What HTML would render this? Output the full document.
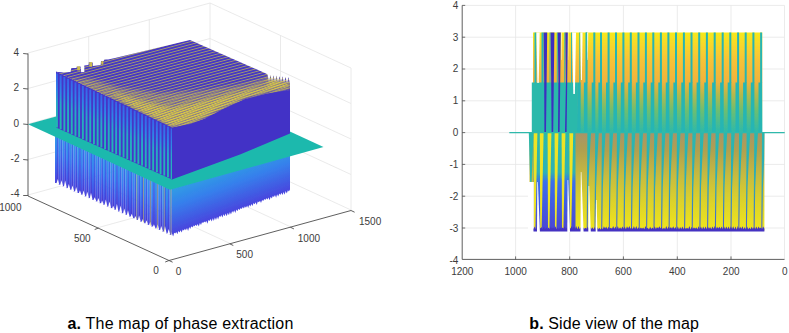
<!DOCTYPE html>
<html><head><meta charset="utf-8">
<style>
html,body{margin:0;padding:0;background:#fff;width:789px;height:333px;overflow:hidden}
svg{display:block;position:absolute;left:0;top:0}
.t{font-family:"Liberation Sans",sans-serif;font-size:10px;fill:#3c3c3c}
.cap{position:absolute;font-family:"Liberation Sans",sans-serif;font-size:16px;color:#000;white-space:nowrap;line-height:1}
</style></head><body>
<svg width="789" height="333" viewBox="0 0 789 333">
<defs>
  <linearGradient id="bUp" x1="0" y1="32" x2="0" y2="133" gradientUnits="userSpaceOnUse">
    <stop offset="0" stop-color="#f6ea1a"/>
    <stop offset="0.13" stop-color="#f8d62a"/>
    <stop offset="0.28" stop-color="#f7c236"/>
    <stop offset="0.5" stop-color="#f0b23c"/>
    <stop offset="0.62" stop-color="#b4b84c"/>
    <stop offset="0.78" stop-color="#6cbe72"/>
    <stop offset="1" stop-color="#2cb9ab"/>
  </linearGradient>
  <linearGradient id="bLo" x1="0" y1="133" x2="0" y2="231" gradientUnits="userSpaceOnUse">
    <stop offset="0" stop-color="#a89468"/>
    <stop offset="0.18" stop-color="#b0a050"/>
    <stop offset="0.43" stop-color="#c6ba40"/>
    <stop offset="0.7" stop-color="#dcd22a"/>
    <stop offset="1" stop-color="#f0e61c"/>
  </linearGradient>
  <linearGradient id="bLoStripe" x1="0" y1="133" x2="0" y2="231" gradientUnits="userSpaceOnUse">
    <stop offset="0" stop-color="#2ab8b0"/>
    <stop offset="0.5" stop-color="#2eaab8"/>
    <stop offset="1" stop-color="#4a5cd0"/>
  </linearGradient>
  <linearGradient id="bLeftLo" x1="0" y1="133" x2="0" y2="231" gradientUnits="userSpaceOnUse">
    <stop offset="0" stop-color="#2cb9ab"/>
    <stop offset="0.4" stop-color="#2eb2b4"/>
    <stop offset="0.5" stop-color="#3a70ec"/>
    <stop offset="1" stop-color="#4a44d4"/>
  </linearGradient>
  <linearGradient id="aLowR" x1="231" y1="161.5" x2="247.4" y2="206" gradientUnits="userSpaceOnUse">
    <stop offset="0" stop-color="#2ca6e2"/>
    <stop offset="0.45" stop-color="#3680ec"/>
    <stop offset="1" stop-color="#4846de"/>
  </linearGradient>
  <linearGradient id="aLowLa" x1="0" y1="0" x2="0" y2="1">
    <stop offset="0" stop-color="#30a2e6"/>
    <stop offset="0.45" stop-color="#3884f0"/>
    <stop offset="0.8" stop-color="#425aea"/>
    <stop offset="1" stop-color="#4a44dc"/>
  </linearGradient>
  <linearGradient id="aLowLb" x1="0" y1="0" x2="0" y2="1">
    <stop offset="0" stop-color="#367cea"/>
    <stop offset="0.5" stop-color="#405ae6"/>
    <stop offset="1" stop-color="#4838d0"/>
  </linearGradient>
  <linearGradient id="aUpStripe" x1="0" y1="0" x2="0" y2="1">
    <stop offset="0" stop-color="#3a62ea"/>
    <stop offset="0.3" stop-color="#2f84e6"/>
    <stop offset="0.55" stop-color="#28a8c8"/>
    <stop offset="1" stop-color="#22b8b0"/>
  </linearGradient>
  <pattern id="topLines" x="0" y="0" width="40" height="2.7" patternUnits="userSpaceOnUse" patternTransform="rotate(-15)">
    <rect x="0" y="0" width="40" height="2.7" fill="#4537c4"/>
    <rect x="0" y="0" width="40" height="0.85" fill="#a89e6c"/>
  </pattern>
  <pattern id="yelLines" x="0" y="0" width="40" height="2.15" patternUnits="userSpaceOnUse" patternTransform="rotate(-20)">
    <rect x="0" y="0.4" width="40" height="1.5" fill="#e0d03e"/>
  </pattern>
  <filter id="soft" x="-5%" y="-5%" width="110%" height="110%"><feGaussianBlur stdDeviation="0.35"/></filter>
  <filter id="soft2" x="-10%" y="-10%" width="120%" height="120%"><feGaussianBlur stdDeviation="2.2"/></filter>
  <mask id="yelMask" maskUnits="userSpaceOnUse" x="0" y="0" width="400" height="300"><g filter="url(#soft2)">
    <polygon points="66,80 90,79 120,88 160,93 200,91 240,85 268,78 290,84 267,93 245,99 225,108 205,118.5 190,124 172,127.5 120,103 66,88" fill="#888"/>
    <polygon points="110,92 140,101 172,108 200,102 225,96 250,90 268,86 267,93 245,99 225,108 205,118.5 190,124 172,127.5 140,112" fill="#fff"/>
    <polygon points="268,76 290,82 290,88 268,93" fill="#fff"/>
  </g></mask>
</defs>

<g stroke="#e4e4e4" stroke-width="0.8" fill="none"><line x1="28.0" y1="195.0" x2="210.0" y2="145.0"/><line x1="210.0" y1="145.0" x2="351.0" y2="210.0"/><line x1="28.0" y1="159.5" x2="210.0" y2="109.5"/><line x1="210.0" y1="109.5" x2="351.0" y2="174.5"/><line x1="28.0" y1="124.0" x2="210.0" y2="74.0"/><line x1="210.0" y1="74.0" x2="351.0" y2="139.0"/><line x1="28.0" y1="88.5" x2="210.0" y2="38.5"/><line x1="210.0" y1="38.5" x2="351.0" y2="103.5"/><line x1="28.0" y1="53.0" x2="210.0" y2="3.0"/><line x1="210.0" y1="3.0" x2="351.0" y2="68.0"/><line x1="88.7" y1="178.3" x2="88.7" y2="36.3"/><line x1="149.3" y1="161.7" x2="149.3" y2="19.7"/><line x1="210.0" y1="145.0" x2="210.0" y2="3.0"/><line x1="280.5" y1="177.5" x2="280.5" y2="35.5"/><line x1="351.0" y1="210.0" x2="351.0" y2="68.0"/><line x1="98.5" y1="227.5" x2="280.5" y2="177.5"/><line x1="88.7" y1="178.3" x2="229.7" y2="243.3"/><line x1="149.3" y1="161.7" x2="290.3" y2="226.7"/></g>
<g filter="url(#soft)">
<g><rect x="55.00" y="127.5" width="2.0" height="55.5" fill="url(#aLowLa)"/><rect x="56.85" y="128.4" width="1.9000000000000001" height="55.5" fill="url(#aLowLb)"/><rect x="58.70" y="129.3" width="2.0" height="55.4" fill="url(#aLowLa)"/><rect x="60.55" y="130.1" width="1.9000000000000001" height="55.4" fill="url(#aLowLb)"/><rect x="62.40" y="131.0" width="2.0" height="55.3" fill="url(#aLowLa)"/><rect x="64.25" y="131.9" width="1.9000000000000001" height="55.3" fill="url(#aLowLb)"/><rect x="66.10" y="132.8" width="2.0" height="55.3" fill="url(#aLowLa)"/><rect x="67.95" y="133.6" width="1.9000000000000001" height="55.2" fill="url(#aLowLb)"/><rect x="69.80" y="134.5" width="2.0" height="55.2" fill="url(#aLowLa)"/><rect x="71.65" y="135.4" width="1.9000000000000001" height="55.1" fill="url(#aLowLb)"/><rect x="73.50" y="136.3" width="2.0" height="55.1" fill="url(#aLowLa)"/><rect x="75.35" y="137.2" width="1.9000000000000001" height="55.1" fill="url(#aLowLb)"/><rect x="77.20" y="138.0" width="2.0" height="55.0" fill="url(#aLowLa)"/><rect x="79.05" y="138.9" width="1.9000000000000001" height="55.0" fill="url(#aLowLb)"/><rect x="80.90" y="139.8" width="2.0" height="54.9" fill="url(#aLowLa)"/><rect x="82.75" y="140.7" width="1.9000000000000001" height="54.9" fill="url(#aLowLb)"/><rect x="84.60" y="141.5" width="2.0" height="54.9" fill="url(#aLowLa)"/><rect x="86.45" y="142.4" width="1.9000000000000001" height="54.8" fill="url(#aLowLb)"/><rect x="88.30" y="143.3" width="2.0" height="54.8" fill="url(#aLowLa)"/><rect x="90.15" y="144.2" width="1.9000000000000001" height="54.7" fill="url(#aLowLb)"/><rect x="92.00" y="145.1" width="2.0" height="54.7" fill="url(#aLowLa)"/><rect x="93.85" y="145.9" width="1.9000000000000001" height="54.7" fill="url(#aLowLb)"/><rect x="95.70" y="146.8" width="2.0" height="54.6" fill="url(#aLowLa)"/><rect x="97.55" y="147.7" width="1.9000000000000001" height="54.6" fill="url(#aLowLb)"/><rect x="99.40" y="148.6" width="2.0" height="54.6" fill="url(#aLowLa)"/><rect x="101.25" y="149.4" width="1.9000000000000001" height="54.5" fill="url(#aLowLb)"/><rect x="103.10" y="150.3" width="2.0" height="54.5" fill="url(#aLowLa)"/><rect x="104.95" y="151.2" width="1.9000000000000001" height="54.4" fill="url(#aLowLb)"/><rect x="106.80" y="152.1" width="2.0" height="54.4" fill="url(#aLowLa)"/><rect x="108.65" y="152.9" width="1.9000000000000001" height="54.4" fill="url(#aLowLb)"/><rect x="110.50" y="153.8" width="2.0" height="54.3" fill="url(#aLowLa)"/><rect x="112.35" y="154.7" width="1.9000000000000001" height="54.3" fill="url(#aLowLb)"/><rect x="114.20" y="155.6" width="2.0" height="54.2" fill="url(#aLowLa)"/><rect x="116.05" y="156.5" width="1.9000000000000001" height="54.2" fill="url(#aLowLb)"/><rect x="117.90" y="157.3" width="2.0" height="54.2" fill="url(#aLowLa)"/><rect x="119.75" y="158.2" width="1.9000000000000001" height="54.1" fill="url(#aLowLb)"/><rect x="121.60" y="159.1" width="2.0" height="54.1" fill="url(#aLowLa)"/><rect x="123.45" y="160.0" width="1.9000000000000001" height="54.0" fill="url(#aLowLb)"/><rect x="125.30" y="160.8" width="2.0" height="54.0" fill="url(#aLowLa)"/><rect x="127.15" y="161.7" width="1.9000000000000001" height="54.0" fill="url(#aLowLb)"/><rect x="129.00" y="162.6" width="2.0" height="53.9" fill="url(#aLowLa)"/><rect x="130.85" y="163.5" width="1.9000000000000001" height="53.9" fill="url(#aLowLb)"/><rect x="132.70" y="164.4" width="2.0" height="53.8" fill="url(#aLowLa)"/><rect x="134.55" y="165.2" width="1.9000000000000001" height="53.8" fill="url(#aLowLb)"/><rect x="136.40" y="166.1" width="2.0" height="53.8" fill="url(#aLowLa)"/><rect x="138.25" y="167.0" width="1.9000000000000001" height="53.7" fill="url(#aLowLb)"/><rect x="140.10" y="167.9" width="2.0" height="53.7" fill="url(#aLowLa)"/><rect x="141.95" y="168.7" width="1.9000000000000001" height="53.6" fill="url(#aLowLb)"/><rect x="143.80" y="169.6" width="2.0" height="53.6" fill="url(#aLowLa)"/><rect x="145.65" y="170.5" width="1.9000000000000001" height="53.6" fill="url(#aLowLb)"/><rect x="147.50" y="171.4" width="2.0" height="53.5" fill="url(#aLowLa)"/><rect x="149.35" y="172.3" width="1.9000000000000001" height="53.5" fill="url(#aLowLb)"/><rect x="151.20" y="173.1" width="2.0" height="53.4" fill="url(#aLowLa)"/><rect x="153.05" y="174.0" width="1.9000000000000001" height="53.4" fill="url(#aLowLb)"/><rect x="154.90" y="174.9" width="2.0" height="53.4" fill="url(#aLowLa)"/><rect x="156.75" y="175.8" width="1.9000000000000001" height="53.3" fill="url(#aLowLb)"/><rect x="158.60" y="176.6" width="2.0" height="53.3" fill="url(#aLowLa)"/><rect x="160.45" y="177.5" width="1.9000000000000001" height="53.2" fill="url(#aLowLb)"/><rect x="162.30" y="178.4" width="2.0" height="53.2" fill="url(#aLowLa)"/><rect x="164.15" y="179.3" width="1.9000000000000001" height="53.2" fill="url(#aLowLb)"/><rect x="166.00" y="180.2" width="2.0" height="53.1" fill="url(#aLowLa)"/><rect x="167.85" y="181.0" width="1.9000000000000001" height="53.1" fill="url(#aLowLb)"/><rect x="169.70" y="181.9" width="2.0" height="53.0" fill="url(#aLowLa)"/><rect x="171.55" y="182.8" width="1.9000000000000001" height="53.0" fill="url(#aLowLb)"/></g>
<g fill="#fff"><polygon points="56.2,184.3 59.2,184.3 57.8,179.0"/><polygon points="60.0,186.0 63.0,186.0 61.5,180.3"/><polygon points="63.7,187.7 66.7,187.7 65.2,180.5"/><polygon points="67.3,189.4 70.3,189.4 68.8,184.0"/><polygon points="71.0,191.0 74.0,191.0 72.5,185.5"/><polygon points="74.7,192.7 77.7,192.7 76.2,186.9"/><polygon points="78.4,194.4 81.4,194.4 79.9,190.2"/><polygon points="82.1,196.1 85.1,196.1 83.6,190.5"/><polygon points="85.8,197.7 88.8,197.7 87.3,191.7"/><polygon points="89.5,199.4 92.5,199.4 91.0,192.8"/><polygon points="93.2,201.1 96.2,201.1 94.7,197.2"/><polygon points="96.9,202.8 99.9,202.8 98.4,198.1"/><polygon points="100.6,204.5 103.6,204.5 102.1,200.6"/><polygon points="104.3,206.1 107.3,206.1 105.8,199.4"/><polygon points="108.0,207.8 111.0,207.8 109.5,201.5"/><polygon points="111.7,209.5 114.7,209.5 113.2,205.8"/><polygon points="115.4,211.2 118.4,211.2 116.9,203.7"/><polygon points="119.1,212.8 122.1,212.8 120.6,205.5"/><polygon points="122.8,214.5 125.8,214.5 124.3,208.4"/><polygon points="126.5,216.2 129.5,216.2 128.0,210.2"/><polygon points="130.2,217.9 133.2,217.9 131.7,213.7"/><polygon points="133.9,219.5 136.9,219.5 135.4,216.0"/><polygon points="137.6,221.2 140.6,221.2 139.1,215.6"/><polygon points="141.3,222.9 144.3,222.9 142.8,219.1"/><polygon points="145.0,224.6 148.0,224.6 146.5,220.3"/><polygon points="148.7,226.2 151.7,226.2 150.2,221.8"/><polygon points="152.4,227.9 155.4,227.9 153.9,224.3"/><polygon points="156.1,229.6 159.1,229.6 157.6,224.2"/><polygon points="159.8,231.3 162.8,231.3 161.3,226.0"/><polygon points="163.5,232.9 166.5,232.9 165.0,226.1"/><polygon points="167.2,234.6 170.2,234.6 168.7,229.0"/><polygon points="170.9,236.3 173.9,236.3 172.4,230.2"/></g>
<g fill="#c8c050" opacity="0.7"><rect x="136.5" y="170.2" width="0.7" height="49.3"/><rect x="143.2" y="173.3" width="0.7" height="49.1"/><rect x="150.1" y="176.6" width="0.7" height="49.0"/><rect x="157.0" y="179.9" width="0.7" height="48.8"/><rect x="163.8" y="183.1" width="0.7" height="48.7"/><rect x="170.6" y="186.3" width="0.7" height="48.5"/></g>
<polygon points="172.0,183.0 290.0,140.0 290.0,189.5 288.9,191.5 287.9,190.3 286.8,193.4 285.7,191.1 284.6,194.8 283.6,191.9 282.5,194.9 281.4,192.7 280.3,195.0 279.3,193.5 278.2,196.6 277.1,194.3 276.1,197.8 275.0,195.1 273.9,197.1 272.8,195.9 271.8,198.6 270.7,196.7 269.6,200.2 268.5,197.5 267.5,199.6 266.4,198.3 265.3,199.9 264.3,199.1 263.2,201.0 262.1,199.9 261.0,203.0 260.0,200.7 258.9,202.3 257.8,201.5 256.7,205.1 255.7,202.3 254.6,204.2 253.5,203.1 252.5,205.9 251.4,203.9 250.3,206.6 249.2,204.7 248.2,207.8 247.1,205.5 246.0,207.7 244.9,206.3 243.9,208.4 242.8,207.1 241.7,208.9 240.7,207.9 239.6,210.1 238.5,208.7 237.4,211.3 236.4,209.5 235.3,213.1 234.2,210.3 233.1,212.8 232.1,211.1 231.0,214.6 229.9,211.9 228.9,215.3 227.8,212.7 226.7,216.3 225.6,213.5 224.6,216.2 223.5,214.3 222.4,217.4 221.3,215.1 220.3,216.9 219.2,215.9 218.1,219.6 217.1,216.7 216.0,220.0 214.9,217.5 213.8,221.1 212.8,218.3 211.7,221.6 210.6,219.1 209.5,221.0 208.5,219.9 207.4,223.7 206.3,220.7 205.3,222.5 204.2,221.5 203.1,223.0 202.0,222.3 201.0,225.1 199.9,223.1 198.8,226.6 197.7,223.9 196.7,226.1 195.6,224.7 194.5,226.2 193.5,225.5 192.4,227.6 191.3,226.3 190.2,229.0 189.2,227.1 188.1,230.9 187.0,227.9 185.9,230.3 184.9,228.7 183.8,230.5 182.7,229.5 181.7,232.4 180.6,230.3 179.5,232.5 178.4,231.1 177.4,234.3 176.3,231.9 175.2,233.5 174.1,232.7 173.1,236.4 172.0,233.5" fill="url(#aLowR)"/>
<polygon points="28,124.3 182,81.7 323.5,147 170,189.8" fill="#1fb9ad"/>
<polygon points="56,71.5 172,127 172,179.5 56,127.5" fill="#4434c8"/>
<g fill="url(#aUpStripe)"><rect x="56.00" y="73.5" width="1.9" height="54.0"/><rect x="59.70" y="75.3" width="1.9" height="53.9"/><rect x="63.40" y="77.0" width="1.9" height="53.8"/><rect x="67.10" y="78.8" width="1.9" height="53.7"/><rect x="70.80" y="80.6" width="1.9" height="53.6"/><rect x="74.50" y="82.4" width="1.9" height="53.4"/><rect x="78.20" y="84.1" width="1.9" height="53.3"/><rect x="81.90" y="85.9" width="1.9" height="53.2"/><rect x="85.60" y="87.7" width="1.9" height="53.1"/><rect x="89.30" y="89.4" width="1.9" height="53.0"/><rect x="93.00" y="91.2" width="1.9" height="52.9"/><rect x="96.70" y="93.0" width="1.9" height="52.8"/><rect x="100.40" y="94.7" width="1.9" height="52.7"/><rect x="104.10" y="96.5" width="1.9" height="52.5"/><rect x="107.80" y="98.3" width="1.9" height="52.4"/><rect x="111.50" y="100.1" width="1.9" height="52.3"/><rect x="115.20" y="101.8" width="1.9" height="52.2"/><rect x="118.90" y="103.6" width="1.9" height="52.1"/><rect x="122.60" y="105.4" width="1.9" height="52.0"/><rect x="126.30" y="107.1" width="1.9" height="51.9"/><rect x="130.00" y="108.9" width="1.9" height="51.8"/><rect x="133.70" y="110.7" width="1.9" height="51.7"/><rect x="137.40" y="112.4" width="1.9" height="51.5"/><rect x="141.10" y="114.2" width="1.9" height="51.4"/><rect x="144.80" y="116.0" width="1.9" height="51.3"/><rect x="148.50" y="117.8" width="1.9" height="51.2"/><rect x="152.20" y="119.5" width="1.9" height="51.1"/><rect x="155.90" y="121.3" width="1.9" height="51.0"/><rect x="159.60" y="123.1" width="1.9" height="50.9"/><rect x="163.30" y="124.8" width="1.9" height="50.8"/><rect x="167.00" y="126.6" width="1.9" height="50.7"/><rect x="170.70" y="128.4" width="1.9" height="50.5"/></g>
<polygon points="172,126 190,123 205,117.5 225,107 245,98 267,92.5 290,89.5 290,133.5 240,154.5 172,179.5" fill="#4331c6"/>
<polygon points="56.0,71.8 64.0,72.5 65.0,72.2 70.5,72.0 71.3,68.0 76.5,68.0 76.7,66.4 80.5,66.4 81.2,72.3 84.3,72.0 84.3,65.5 88.5,65.0 88.8,62.3 92.6,62.3 93.0,66.0 100.6,65.0 101.0,61.1 103.7,61.1 104.4,59.6 108.2,59.6 115.0,58.0 190.0,40.0 266.0,73.5 267.5,74.5 269.0,81.7 270.5,74.9 272.0,82.0 273.5,75.2 275.0,82.2 276.5,75.6 278.0,82.5 279.5,75.9 281.0,82.8 282.5,76.3 284.0,83.2 285.5,76.7 287.0,83.5 288.5,77.0 290.0,83.8 290.0,84.0 290.0,90.0 267.0,93.5 245.0,99.0 225.0,108.0 205.0,118.5 190.0,124.0 172.0,127.5" fill="url(#topLines)"/>
<polygon points="56.0,71.8 64.0,72.5 65.0,72.2 70.5,72.0 71.3,68.0 76.5,68.0 76.7,66.4 80.5,66.4 81.2,72.3 84.3,72.0 84.3,65.5 88.5,65.0 88.8,62.3 92.6,62.3 93.0,66.0 100.6,65.0 101.0,61.1 103.7,61.1 104.4,59.6 108.2,59.6 115.0,58.0 190.0,40.0 266.0,73.5 267.5,74.5 269.0,81.7 270.5,74.9 272.0,82.0 273.5,75.2 275.0,82.2 276.5,75.6 278.0,82.5 279.5,75.9 281.0,82.8 282.5,76.3 284.0,83.2 285.5,76.7 287.0,83.5 288.5,77.0 290.0,83.8 290.0,84.0 290.0,90.0 267.0,93.5 245.0,99.0 225.0,108.0 205.0,118.5 190.0,124.0 172.0,127.5" fill="url(#yelLines)" mask="url(#yelMask)"/>
<g fill="#d8c844" opacity="0.9"><rect x="77.2" y="66.4" width="2.8" height="4"/><rect x="89.3" y="62.3" width="2.8" height="4.5"/><rect x="101.3" y="61.1" width="2" height="3.5"/></g>
</g>
<g stroke="#4d4d4d" stroke-width="0.9" fill="none">
<line x1="28" y1="196" x2="28" y2="53.5"/>
<line x1="28" y1="196" x2="169" y2="260.5"/>
<line x1="169" y1="260.5" x2="351" y2="210.5"/>
<line x1="28" y1="54" x2="23.2" y2="53.5"/><line x1="28" y1="89" x2="23.2" y2="88.5"/><line x1="28" y1="124.5" x2="23.2" y2="124"/><line x1="28" y1="160" x2="23.2" y2="159.5"/><line x1="28" y1="195.5" x2="23.2" y2="195.5"/>
<line x1="98.5" y1="228" x2="94.7" y2="229.5"/><line x1="169" y1="260.5" x2="165.2" y2="262"/>
<line x1="169" y1="260.5" x2="172.6" y2="262.2"/><line x1="229.7" y1="243.8" x2="233.3" y2="245.5"/><line x1="290.3" y1="227.2" x2="293.9" y2="228.9"/><line x1="351" y1="210.5" x2="354.6" y2="212.2"/>
</g>
<g class="t">
<text x="19" y="56" text-anchor="end">4</text>
<text x="19" y="91" text-anchor="end">2</text>
<text x="19" y="126.5" text-anchor="end">0</text>
<text x="19.5" y="161.5" text-anchor="end">-2</text>
<text x="19.5" y="197" text-anchor="end">-4</text>
<text x="-0.8" y="210.5">1000</text>
<text x="74" y="242">500</text>
<text x="153.2" y="274">0</text>
<text x="175.8" y="275.2">0</text>
<text x="236.3" y="258.3">500</text>
<text x="297.8" y="242">1000</text>
<text x="359" y="225">1500</text>
</g>
<g stroke="#e6e6e6" stroke-width="0.8" fill="none">
<line x1="462" y1="37.2" x2="784.5" y2="37.2"/>
<line x1="462" y1="69" x2="784.5" y2="69"/>
<line x1="462" y1="100.8" x2="784.5" y2="100.8"/>
<line x1="462" y1="132.6" x2="784.5" y2="132.6"/>
<line x1="462" y1="164.4" x2="784.5" y2="164.4"/>
<line x1="462" y1="196.2" x2="784.5" y2="196.2"/>
<line x1="462" y1="228" x2="784.5" y2="228"/>
<line x1="515.6" y1="5.4" x2="515.6" y2="259.4"/>
<line x1="569.7" y1="5.4" x2="569.7" y2="259.4"/>
<line x1="623.4" y1="5.4" x2="623.4" y2="259.4"/>
<line x1="677.3" y1="5.4" x2="677.3" y2="259.4"/>
<line x1="731" y1="5.4" x2="731" y2="259.4"/>
<line x1="462" y1="5.4" x2="784.5" y2="5.4"/>
<line x1="784.5" y1="5.4" x2="784.5" y2="259.4"/>
</g>
<g filter="url(#soft)">
<rect x="533" y="32.5" width="229.29999999999995" height="100.30000000000001" fill="url(#bUp)"/>
<rect x="529.5" y="132.8" width="234.89999999999998" height="97.69999999999999" fill="url(#bLo)"/>
<g fill="#27b5b3"><rect x="577.10" y="82.5" width="3.60" height="50.30000000000001"/><rect x="585.50" y="32.5" width="2.0" height="50.5"/><rect x="583.90" y="82.5" width="3.60" height="50.30000000000001"/><rect x="593.30" y="32.5" width="2.0" height="50.5"/><rect x="591.70" y="82.5" width="3.60" height="50.30000000000001"/><rect x="600.00" y="32.5" width="2.0" height="50.5"/><rect x="598.40" y="82.5" width="3.60" height="50.30000000000001"/><rect x="607.60" y="32.5" width="2.0" height="50.5"/><rect x="606.00" y="82.5" width="3.60" height="50.30000000000001"/><rect x="615.00" y="32.5" width="2.0" height="50.5"/><rect x="613.40" y="82.5" width="3.60" height="50.30000000000001"/><rect x="622.40" y="32.5" width="2.0" height="50.5"/><rect x="620.80" y="82.5" width="3.60" height="50.30000000000001"/><rect x="629.80" y="32.5" width="2.0" height="50.5"/><rect x="628.20" y="82.5" width="3.60" height="50.30000000000001"/><rect x="637.50" y="32.5" width="2.0" height="50.5"/><rect x="635.90" y="82.5" width="3.60" height="50.30000000000001"/><rect x="644.90" y="32.5" width="2.0" height="50.5"/><rect x="643.30" y="82.5" width="3.60" height="50.30000000000001"/><rect x="652.30" y="32.5" width="2.0" height="50.5"/><rect x="650.70" y="82.5" width="3.60" height="50.30000000000001"/><rect x="659.90" y="32.5" width="2.0" height="50.5"/><rect x="658.30" y="82.5" width="3.60" height="50.30000000000001"/><rect x="667.40" y="32.5" width="2.0" height="50.5"/><rect x="665.80" y="82.5" width="3.60" height="50.30000000000001"/><rect x="675.00" y="32.5" width="2.0" height="50.5"/><rect x="673.40" y="82.5" width="3.60" height="50.30000000000001"/><rect x="682.90" y="32.5" width="2.0" height="50.5"/><rect x="681.30" y="82.5" width="3.60" height="50.30000000000001"/><rect x="690.50" y="32.5" width="2.0" height="50.5"/><rect x="688.90" y="82.5" width="3.60" height="50.30000000000001"/><rect x="698.20" y="32.5" width="2.0" height="50.5"/><rect x="696.60" y="82.5" width="3.60" height="50.30000000000001"/><rect x="705.90" y="32.5" width="2.0" height="50.5"/><rect x="704.30" y="82.5" width="3.60" height="50.30000000000001"/><rect x="713.70" y="32.5" width="2.0" height="50.5"/><rect x="712.10" y="82.5" width="3.60" height="50.30000000000001"/><rect x="721.70" y="32.5" width="2.0" height="50.5"/><rect x="720.10" y="82.5" width="3.60" height="50.30000000000001"/><rect x="729.30" y="32.5" width="2.0" height="50.5"/><rect x="727.70" y="82.5" width="3.60" height="50.30000000000001"/><rect x="737.10" y="32.5" width="2.0" height="50.5"/><rect x="735.50" y="82.5" width="3.60" height="50.30000000000001"/><rect x="744.70" y="32.5" width="2.0" height="50.5"/><rect x="743.10" y="82.5" width="3.60" height="50.30000000000001"/><rect x="752.40" y="32.5" width="2.0" height="50.5"/><rect x="750.80" y="82.5" width="3.60" height="50.30000000000001"/><rect x="760.10" y="32.5" width="2.0" height="50.5"/><rect x="758.50" y="82.5" width="3.60" height="50.30000000000001"/></g>
<g fill="url(#bLoStripe)"><polygon points="587.4,132.8 591.0,132.8 589.5,160 588.3,188 587.7,230.5 586.7,230.5 587.0,188 587.2,160"/><polygon points="595.2,132.8 598.8,132.8 597.3,160 596.1,188 595.5,230.5 594.5,230.5 594.8,188 595.0,160"/><polygon points="601.9,132.8 605.5,132.8 604.0,160 602.8,188 602.2,230.5 601.2,230.5 601.5,188 601.7,160"/><polygon points="609.5,132.8 613.1,132.8 611.6,160 610.4,188 609.8,230.5 608.8,230.5 609.1,188 609.3,160"/><polygon points="616.9,132.8 620.5,132.8 619.0,160 617.8,188 617.2,230.5 616.2,230.5 616.5,188 616.7,160"/><polygon points="624.3,132.8 627.9,132.8 626.4,160 625.2,188 624.6,230.5 623.6,230.5 623.9,188 624.1,160"/><polygon points="631.7,132.8 635.3,132.8 633.8,160 632.6,188 632.0,230.5 631.0,230.5 631.3,188 631.5,160"/><polygon points="639.4,132.8 643.0,132.8 641.5,160 640.3,188 639.7,230.5 638.7,230.5 639.0,188 639.2,160"/><polygon points="646.8,132.8 650.4,132.8 648.9,160 647.7,188 647.1,230.5 646.1,230.5 646.4,188 646.6,160"/><polygon points="654.2,132.8 657.8,132.8 656.3,160 655.1,188 654.5,230.5 653.5,230.5 653.8,188 654.0,160"/><polygon points="661.8,132.8 665.4,132.8 663.9,160 662.7,188 662.1,230.5 661.1,230.5 661.4,188 661.6,160"/><polygon points="669.3,132.8 672.9,132.8 671.4,160 670.2,188 669.6,230.5 668.6,230.5 668.9,188 669.1,160"/><polygon points="676.9,132.8 680.5,132.8 679.0,160 677.8,188 677.2,230.5 676.2,230.5 676.5,188 676.7,160"/><polygon points="684.8,132.8 688.4,132.8 686.9,160 685.7,188 685.1,230.5 684.1,230.5 684.4,188 684.6,160"/><polygon points="692.4,132.8 696.0,132.8 694.5,160 693.3,188 692.7,230.5 691.7,230.5 692.0,188 692.2,160"/><polygon points="700.1,132.8 703.7,132.8 702.2,160 701.0,188 700.4,230.5 699.4,230.5 699.7,188 699.9,160"/><polygon points="707.8,132.8 711.4,132.8 709.9,160 708.7,188 708.1,230.5 707.1,230.5 707.4,188 707.6,160"/><polygon points="715.6,132.8 719.2,132.8 717.7,160 716.5,188 715.9,230.5 714.9,230.5 715.2,188 715.4,160"/><polygon points="723.6,132.8 727.2,132.8 725.7,160 724.5,188 723.9,230.5 722.9,230.5 723.2,188 723.4,160"/><polygon points="731.2,132.8 734.8,132.8 733.3,160 732.1,188 731.5,230.5 730.5,230.5 730.8,188 731.0,160"/><polygon points="739.0,132.8 742.6,132.8 741.1,160 739.9,188 739.3,230.5 738.3,230.5 738.6,188 738.8,160"/><polygon points="746.6,132.8 750.2,132.8 748.7,160 747.5,188 746.9,230.5 745.9,230.5 746.2,188 746.4,160"/><polygon points="754.3,132.8 757.9,132.8 756.4,160 755.2,188 754.6,230.5 753.6,230.5 753.9,188 754.1,160"/><polygon points="762.0,132.8 764.4,132.8 764.1,160 762.9,188 762.3,230.5 761.3,230.5 761.6,188 761.8,160"/></g>
<rect x="531.8" y="82.5" width="45.200000000000045" height="50.30000000000001" fill="#2cb9ab"/>
<rect x="533.5" y="132.8" width="42" height="97.69999999999999" fill="url(#bLeftLo)"/>
<rect x="534.5" y="32.5" width="1.90" height="50.5" fill="#27b5b3"/><polygon points="536.4,32.5 539.7,32.5 538.7,83 537.4,83" fill="#ffffff"/><rect x="541.5" y="32.5" width="2.10" height="50.5" fill="#27b5b3"/><rect x="549.6" y="32.5" width="1.00" height="50.5" fill="#27b5b3"/><rect x="556.8" y="32.5" width="1.00" height="50.5" fill="#27b5b3"/><polygon points="560.8,32.5 561.6,32.5 561.4,60 561.0,60" fill="#ffffff"/><rect x="564.3" y="32.5" width="1.00" height="50.5" fill="#27b5b3"/><polygon points="567.6,32.5 568.4,32.5 568.2,60 567.8,60" fill="#ffffff"/><rect x="571.1" y="32.5" width="1.00" height="50.5" fill="#27b5b3"/><polygon points="572.2,32.5 576,32.5 574.9,94 573.3,94" fill="#ffffff"/><rect x="579.3" y="32.5" width="1.00" height="50.5" fill="#27b5b3"/><polygon points="580.3,32.5 582.6,32.5 581.9,80 581.0,80" fill="#ffffff"/><rect x="585.9" y="32.5" width="1.20" height="50.5" fill="#27b5b3"/><polygon points="587.2,32.5 588.2,32.5 587.9,60 587.5,60" fill="#ffffff"/>
<g fill="#3d2ebf"><polygon points="543.6,32.5 547.2,32.5 546.6,83 546.0,132.8 544.4,132.8 544.2,83"/><polygon points="550.6,32.5 554.4,32.5 553.8,83 553.2,132.8 551.6,132.8 551.2,83"/><polygon points="557.8,32.5 560.8,32.5 560.2,83 559.6,132.8 558.0,132.8 558.4,83"/><polygon points="565.3,32.5 567.8,32.5 567.2,83 566.6,132.8 565.0,132.8 565.9,83"/></g>
<g fill="#eee428"><polygon points="533.6,132.8 537.4,132.8 535.4,230.5 534.0,230.5"/><polygon points="539.8,132.8 543.6,132.8 541.6,230.5 540.2,230.5"/><polygon points="547.6,132.8 551.4,132.8 549.4,230.5 548.0,230.5"/><polygon points="554.6,132.8 558.4,132.8 556.4,230.5 555.0,230.5"/><polygon points="561.6,132.8 565.4,132.8 563.4,230.5 562.0,230.5"/><polygon points="569.4,132.8 573.2,132.8 571.2,230.5 569.8,230.5"/></g>
<polygon points="528.8,132.6 533.5,132.6 531.6,182 530.2,182" fill="#2cb9ab"/>
<rect x="528" y="182" width="5.8" height="52" fill="#fff"/>
</g>
<polygon points="533.5,229.1 534.7,226.5 535.8,229.2 537.0,226.1 538.1,229.2 539.3,226.1 540.4,228.6 541.6,227.0 542.7,229.4 543.9,226.6 545.0,229.3 546.2,227.6 547.4,229.0 548.5,227.4 549.7,229.0 550.8,226.8 552.0,228.6 553.1,227.4 554.3,228.8 555.4,226.2 556.6,229.2 557.7,227.5 558.9,229.2 560.1,227.6 561.2,229.1 562.4,227.6 563.5,228.6 564.7,226.2 565.8,228.8 567.0,227.4 568.1,229.4 569.3,226.2 570.4,228.8 571.6,226.1 572.8,229.0 573.9,226.6 575.1,228.8 576.2,226.1 577.4,229.2 578.5,226.1 579.7,229.3 580.8,227.3 582.0,228.9 583.1,227.5 584.3,228.7 585.5,227.7 586.6,228.8 587.8,226.7 588.9,228.6 590.1,226.6 591.2,228.9 592.4,227.2 593.5,229.3 594.7,226.9 595.8,228.9 597.0,226.9 598.2,229.2 599.3,227.7 600.5,229.4 601.6,227.8 602.8,229.2 603.9,226.3 605.1,228.6 606.2,226.4 607.4,228.9 608.5,226.8 609.7,228.6 610.9,227.7 612.0,228.7 613.2,226.1 614.3,228.8 615.5,226.4 616.6,229.3 617.8,226.1 618.9,228.9 620.1,227.2 621.2,229.0 622.4,226.4 623.6,228.7 624.7,226.5 625.9,229.2 627.0,226.3 628.2,228.6 629.3,226.1 630.5,228.7 631.6,227.2 632.8,229.1 633.9,226.1 635.1,228.9 636.3,226.1 637.4,229.0 638.6,227.2 639.7,228.9 640.9,227.5 642.0,228.7 643.2,227.5 644.3,229.2 645.5,226.0 646.6,228.7 647.8,227.7 649.0,229.4 650.1,226.8 651.3,228.9 652.4,227.4 653.6,229.1 654.7,226.3 655.9,229.0 657.0,227.0 658.2,228.6 659.3,226.2 660.5,228.6 661.6,226.9 662.8,229.3 664.0,227.6 665.1,229.2 666.3,226.1 667.4,229.1 668.6,226.4 669.7,228.7 670.9,227.0 672.0,228.7 673.2,226.3 674.3,228.8 675.5,227.0 676.7,229.4 677.8,226.3 679.0,229.4 680.1,227.0 681.3,229.0 682.4,226.5 683.6,229.0 684.7,227.3 685.9,228.9 687.0,227.5 688.2,228.9 689.4,226.0 690.5,229.4 691.7,226.7 692.8,229.0 694.0,227.2 695.1,228.7 696.3,227.3 697.4,229.2 698.6,226.2 699.7,228.9 700.9,226.4 702.1,229.2 703.2,226.5 704.4,229.1 705.5,226.4 706.7,228.9 707.8,226.5 709.0,228.8 710.1,226.9 711.3,229.2 712.4,226.6 713.6,228.8 714.8,226.1 715.9,229.1 717.1,226.8 718.2,228.6 719.4,226.8 720.5,228.8 721.7,226.6 722.8,229.0 724.0,226.3 725.1,229.1 726.3,226.4 727.5,228.9 728.6,226.6 729.8,229.2 730.9,226.3 732.1,228.9 733.2,226.3 734.4,229.3 735.5,226.6 736.7,229.4 737.8,226.1 739.0,229.0 740.2,226.8 741.3,228.7 742.5,226.3 743.6,229.3 744.8,226.9 745.9,229.2 747.1,226.5 748.2,229.2 749.4,227.5 750.5,229.2 751.7,226.8 752.9,229.1 754.0,227.0 755.2,229.1 756.3,226.4 757.5,229.1 758.6,226.5 759.8,228.6 760.9,227.5 762.1,229.0 763.2,226.6 764.4,228.8 764.4,231.4 533.5,231.4" fill="#4533c2" filter="url(#soft)"/>
<g fill="#fff" filter="url(#soft)"><polygon points="537.3,182 537.9,182 539.9,232 537.0,232"/><polygon points="567.6,180 568.2,180 570.0,232 567.3,232"/><polygon points="580.8,172 581.4,172 583.6,232 580.5,232"/><polygon points="588.6,186 589.2,186 590.8,232 588.3,232"/><polygon points="596.0,200 596.6,200 597.4,232 595.7,232"/></g>
<line x1="509.3" y1="132.6" x2="784.7" y2="132.6" stroke="#2fb9ab" stroke-width="1.3"/>
<g stroke="#4d4d4d" stroke-width="0.9" fill="none">
<line x1="462.2" y1="5.4" x2="462.2" y2="259.4"/>
<line x1="462.2" y1="259.4" x2="784.5" y2="259.4"/>
</g>
<g stroke="#4d4d4d" stroke-width="0.8">
<line x1="462.2" y1="5.4" x2="465.2" y2="5.4"/>
<line x1="462.2" y1="37.2" x2="465.2" y2="37.2"/>
<line x1="462.2" y1="69" x2="465.2" y2="69"/>
<line x1="462.2" y1="100.8" x2="465.2" y2="100.8"/>
<line x1="462.2" y1="132.6" x2="465.2" y2="132.6"/>
<line x1="462.2" y1="164.4" x2="465.2" y2="164.4"/>
<line x1="462.2" y1="196.2" x2="465.2" y2="196.2"/>
<line x1="462.2" y1="228" x2="465.2" y2="228"/>
<line x1="515.6" y1="259.4" x2="515.6" y2="256.4"/>
<line x1="569.7" y1="259.4" x2="569.7" y2="256.4"/>
<line x1="623.4" y1="259.4" x2="623.4" y2="256.4"/>
<line x1="677.3" y1="259.4" x2="677.3" y2="256.4"/>
<line x1="731" y1="259.4" x2="731" y2="256.4"/>
</g>
<g class="t">
<text x="458.3" y="9.3" text-anchor="end">4</text>
<text x="458.3" y="40.8" text-anchor="end">3</text>
<text x="458.3" y="72.4" text-anchor="end">2</text>
<text x="458.3" y="104.3" text-anchor="end">1</text>
<text x="458.3" y="136.1" text-anchor="end">0</text>
<text x="458.3" y="167.9" text-anchor="end">-1</text>
<text x="458.3" y="199.7" text-anchor="end">-2</text>
<text x="458.3" y="231.5" text-anchor="end">-3</text>
<text x="458.3" y="264" text-anchor="end">-4</text>
<text x="462.3" y="275" text-anchor="middle">1200</text>
<text x="515.7" y="275" text-anchor="middle">1000</text>
<text x="569.6" y="275" text-anchor="middle">800</text>
<text x="623.4" y="275" text-anchor="middle">600</text>
<text x="677.3" y="275" text-anchor="middle">400</text>
<text x="731.2" y="275" text-anchor="middle">200</text>
<text x="784.8" y="275" text-anchor="middle">0</text>
</g>
</svg>
<div class="cap" style="left:67.5px;top:316px;letter-spacing:0.19px"><b>a.</b> The map of phase extraction</div>
<div class="cap" style="left:529.3px;top:316px;letter-spacing:0.11px"><b>b.</b> Side view of the map</div>
</body></html>
